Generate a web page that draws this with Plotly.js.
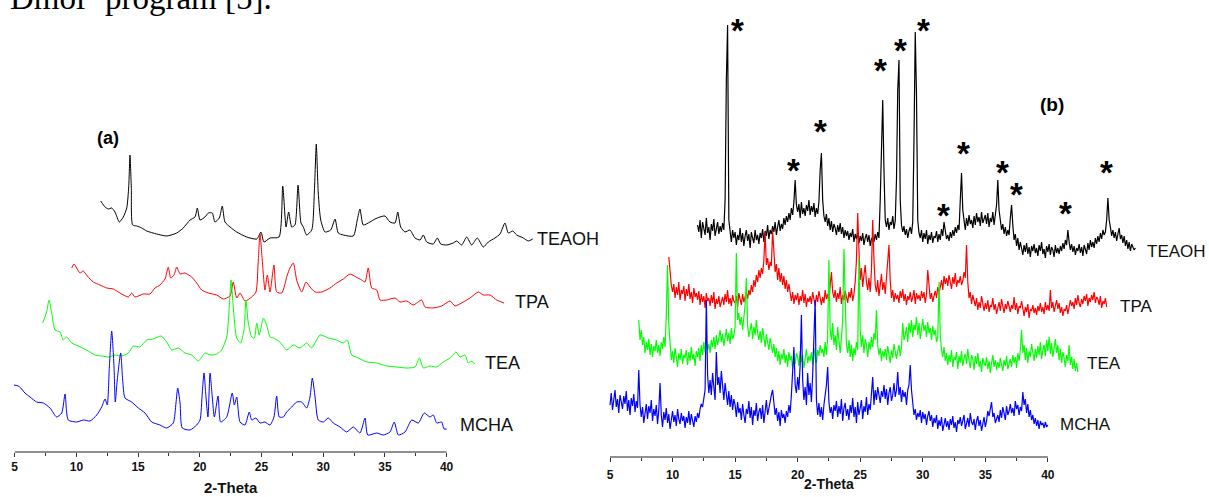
<!DOCTYPE html>
<html><head><meta charset="utf-8">
<script src="https://cdn.plot.ly/plotly-3.0.1.min.js"></script>
<style>html,body{margin:0;padding:0;background:#fff}#chart{width:1209px;height:497px}</style>
</head><body><div id="chart"></div>
<script>
// ---------- Panel (a): smoothed patterns (2-theta, relative intensity) ----------
const seriesNames = ["TEAOH","TPA","TEA","MCHA"];
const seriesColors = ["#000000","#ff0000","#00ff00","#0000ff"];
const tickVals = [5,10,15,20,25,30,35,40];
const tickText = ["5","10","15","20","25","30","35","40"];
const minorTickVals = [7.5,12.5,17.5,22.5,27.5,32.5,37.5];

const aTEAOH_theta = [11.97,12.32,12.59,12.86,13.13,13.48,13.80,14.08,14.24,14.34,14.45,14.56,14.89,15.29,15.70,16.51,17.32,18.13,18.66,19.21,19.61,19.80,20.02,20.42,20.69,21.01,21.23,21.58,21.82,22.04,22.45,22.99,23.80,24.61,24.96,25.20,25.69,26.42,26.72,26.99,27.20,27.45,27.71,27.96,28.20,28.39,28.66,29.07,29.28,29.44,29.60,29.80,30.15,30.61,30.96,31.22,31.63,32.44,32.76,32.98,33.25,33.79,34.20,34.60,35.01,35.41,35.82,36.04,36.28,36.63,37.03,37.44,37.85,38.11,38.39,38.92,39.25,39.52,40.01,40.54,40.82,41.22,41.63,42.03,42.49,42.97,43.38,43.92,44.33,44.73,45.00,45.36,45.68,46.22,46.62,46.98];
const aTEAOH_int = [49,43,41,42,38,28,33,42,63,95,63,25,24,22,19,16,14,17,22,30,33,42,30,33,37,37,28,32,44,28,23,18,13,11,18,8,12,13,64,23,38,23,25,65,27,23,15,20,57,106,57,30,18,20,31,17,15,14,30,41,25,28,31,33,34,28,27,38,23,18,20,12,10,15,8,6,12,6,5,7,9,5,13,5,12,3,8,12,16,27,17,19,15,12,9,11];

const aTPA_theta = [9.62,9.81,10.02,10.29,10.56,10.88,11.37,11.91,12.46,12.99,13.53,14.21,14.48,14.75,15.42,15.96,16.37,16.77,17.18,17.45,17.64,17.91,18.13,18.40,18.80,19.34,19.75,20.15,20.69,21.37,21.90,22.45,22.71,22.99,23.26,23.66,24.21,24.55,24.74,24.88,25.06,25.28,25.47,25.69,26.01,26.23,26.64,27.09,27.31,27.58,27.85,28.26,28.61,28.93,29.34,29.88,30.55,31.09,31.63,32.17,32.66,33.12,33.39,33.65,33.93,34.34,34.60,35.15,35.82,36.22,36.77,37.30,37.98,38.25,38.92,39.60,40.28,40.68,41.35,41.90,42.57,42.97,43.52,44.06,44.65];
const aTPA_int = [40,44,40,35,37,32,26,23,20,19,15,11,15,11,14,14,20,23,29,41,30,33,41,34,35,31,25,18,15,13,9,12,26,10,15,7,11,16,48,74,48,18,33,16,43,16,15,33,40,45,28,16,26,21,16,16,20,25,29,34,31,28,26,40,20,18,8,8,10,6,7,3,8,1,0,2,7,2,6,10,16,13,13,8,5];

const aTEA_theta = [7.27,7.59,7.78,8.00,8.27,8.67,8.94,9.21,9.62,10.15,10.83,11.51,12.05,12.59,13.13,13.67,14.21,14.61,15.15,15.70,16.23,16.86,17.32,17.72,18.26,18.80,19.34,19.88,20.42,20.83,21.37,21.77,22.18,22.39,22.53,22.71,22.99,23.31,23.58,23.74,23.93,24.21,24.42,24.61,24.82,25.15,25.42,25.69,25.96,26.50,27.04,27.58,28.12,28.66,29.07,29.74,30.41,31.09,31.63,31.95,32.31,32.84,33.53,34.34,35.15,35.96,36.77,37.44,37.79,38.11,38.65,39.20,39.73,40.28,40.76,41.09,41.49,41.76,41.98,42.30];
const aTEA_int = [45,56,68,55,38,36,28,31,25,22,18,13,12,11,13,12,15,22,21,28,29,32,26,18,20,15,13,7,15,13,14,18,31,61,88,61,30,25,38,68,45,31,30,45,33,50,43,31,30,26,18,23,20,25,20,33,30,28,25,28,13,10,6,5,2,1,0,1,10,0,2,1,6,10,16,11,13,5,7,4];

const aMCHA_theta = [4.94,5.29,5.49,5.83,6.24,6.78,7.32,7.86,8.40,8.81,9.08,9.34,10.02,10.56,11.10,11.65,12.05,12.32,12.50,12.67,12.86,13.05,13.15,13.31,13.59,13.75,13.94,14.48,15.02,15.56,16.10,16.77,17.32,17.85,18.07,18.21,18.40,18.58,19.21,19.75,20.02,20.20,20.34,20.50,20.66,20.83,21.01,21.18,21.48,21.69,22.18,22.63,22.80,22.99,23.26,23.66,24.01,24.21,24.55,24.88,25.28,25.69,26.01,26.23,26.44,26.77,27.04,27.45,27.85,28.26,28.66,28.93,29.12,29.34,29.60,30.01,30.41,30.82,31.36,31.90,32.44,32.98,33.39,33.61,34.34,34.87,35.41,35.76,36.09,36.63,37.17,37.71,38.19,38.65,38.92,39.20,39.60,39.79,40.01];
const aMCHA_int = [51,50,48,43,39,34,33,28,19,23,42,16,14,16,15,21,29,37,31,69,105,69,34,56,83,56,38,34,28,23,14,11,8,13,33,48,33,8,6,11,16,43,63,39,19,63,39,19,40,14,19,43,31,39,14,11,24,16,18,13,14,11,19,40,19,19,24,29,34,34,28,39,58,39,16,14,18,13,9,4,9,3,18,1,3,1,4,14,1,4,16,13,23,19,21,13,14,7,7];

// ---------- Panel (b): raw patterns, 0.1 degree step ----------
const stepB = 0.1;
const bTEAOH_start = 12.0;
const bTEAOH_int = [
35,28,40,22,38,30,25,42,27,33,
20,36,29,41,24,31,38,26,34,28,
37,30,60,180,235,40,26,18,30,22,
28,15,25,20,32,18,27,14,24,30,
19,26,12,28,22,17,30,20,25,16,
27,22,31,18,29,24,35,21,30,26,
34,28,38,25,33,40,29,36,31,42,
35,44,38,47,40,52,45,58,80,55,
48,56,42,58,46,52,44,55,49,60,
45,54,48,57,43,52,46,58,90,107,
60,44,38,46,34,42,30,39,28,36,
32,25,35,28,37,26,33,22,30,24,
29,20,27,23,31,18,26,21,28,17,
24,19,27,15,22,26,18,25,14,21,
23,18,26,20,28,22,60,130,160,90,
40,33,42,30,38,35,44,31,39,80,
170,200,60,35,28,34,25,31,22,29,
33,26,38,120,228,165,40,27,22,30,
18,27,21,30,16,25,20,28,17,24,
22,29,18,26,20,31,24,38,27,21,
25,19,28,22,30,24,33,27,35,30,
60,87,50,38,30,42,34,45,36,40,
32,44,35,47,38,43,34,48,37,41,
45,36,47,33,42,38,48,35,44,55,
80,50,40,30,36,26,33,24,30,25,
42,55,35,20,26,14,22,10,18,12,
5,15,8,17,6,13,3,14,9,16,
7,12,4,15,9,18,6,11,2,14,
8,16,5,13,10,3,15,7,12,6,
14,9,17,11,20,15,30,18,10,16,
8,14,5,12,9,16,7,13,4,15,
11,6,17,10,20,13,18,12,22,16,
24,18,27,21,30,25,28,40,62,40,
33,24,30,22,28,19,26,32,21,25,
17,24,14,20,11,18,9,16,13,10,
12];

const bTPA_start = 9.7;
const bTPA_int = [
63,47,35,
28,36,22,33,25,38,20,30,26,34,
19,31,24,36,21,28,17,32,23,27,
20,29,15,26,18,24,12,27,19,22,
14,25,17,28,11,21,16,24,13,20,
23,15,26,18,30,16,22,14,25,19,
17,24,13,27,20,15,26,18,23,28,
21,30,25,35,28,40,33,45,38,50,
42,52,46,60,88,55,62,50,58,54,
90,70,48,56,40,52,38,47,35,44,
31,40,28,36,25,19,28,16,25,20,
27,15,24,19,30,17,26,13,22,18,
24,16,28,20,14,25,18,29,21,15,
23,17,30,21,26,19,35,48,28,22,
30,18,27,21,33,16,25,20,29,24,
17,28,22,32,19,26,38,60,107,70,
40,52,33,45,55,38,30,42,28,50,
100,60,35,28,40,24,33,46,30,38,
26,44,52,75,40,22,30,18,27,21,
25,17,29,22,31,19,26,15,24,20,
28,18,23,30,16,27,21,25,19,29,
22,28,17,26,50,30,21,27,18,24,
29,22,33,26,35,40,30,44,36,42,
34,45,38,31,43,36,47,33,40,37,
44,35,39,48,42,75,38,22,28,16,
25,19,14,22,10,18,12,24,15,9,
17,11,20,8,15,13,22,10,16,6,
12,18,9,21,14,7,16,11,19,13,
8,15,11,23,10,17,6,14,12,19,
10,4,13,8,16,2,11,9,15,7,
12,5,14,9,17,8,13,6,18,10,
15,9,30,12,18,8,14,20,11,17,
7,13,4,11,9,15,6,12,20,14,
18,11,22,15,25,17,13,21,16,24,
19,26,14,22,18,25,20,28,17,23,
21,15,24,12,19,16,22,13];

const bTEA_start = 7.3;
const bTEA_int = [
55,35,45,30,38,22,33,
25,36,20,31,18,29,24,35,22,30,
19,33,26,38,28,60,110,50,28,15,
24,12,27,18,8,22,15,26,11,20,
17,25,10,23,14,28,16,21,9,24,
18,27,14,30,20,33,23,36,25,31,
22,35,28,38,26,40,30,37,45,33,
41,29,38,46,34,42,31,47,36,40,
48,122,55,62,50,58,45,60,70,97,
50,38,45,52,36,48,40,55,42,35,
44,32,47,38,28,41,34,25,37,30,
22,31,18,27,14,24,10,21,16,26,
12,20,8,23,15,19,6,17,11,22,
18,9,24,13,20,7,16,26,12,19,
14,23,10,27,17,12,25,19,30,22,
26,18,33,20,38,115,45,35,52,30,
40,25,48,33,22,37,55,126,60,30,
22,35,18,30,14,27,20,33,25,117,
45,28,40,22,36,30,18,33,25,38,
28,42,35,65,30,20,27,14,24,18,
26,15,29,20,12,25,17,31,22,16,
24,30,19,28,52,35,40,48,33,52,
42,55,38,50,45,58,40,52,36,48,
56,44,50,38,53,42,47,35,49,40,
45,33,38,93,40,25,18,28,14,22,
10,20,13,25,8,18,15,23,6,19,
12,24,9,17,21,11,26,14,7,20,
16,5,19,11,22,8,14,3,17,12,
9,18,6,14,2,12,20,8,15,5,
13,7,17,10,4,15,9,19,6,11,
16,8,20,12,18,7,22,14,25,45,
22,30,15,27,12,24,18,31,20,14,
26,17,29,20,33,16,25,30,19,35,
24,38,21,32,18,28,36,22,30,15,
26,12,23,17,8,20,14,30,10,18,
6,16,4,12,3];

const bMCHA_start = 5.0;
const bMCHA_int = [
30,42,25,38,45,28,36,22,40,33,
26,39,31,44,24,35,20,37,29,41,
23,34,27,65,30,18,28,12,24,31,
16,29,22,35,14,26,19,30,11,25,
52,20,8,23,15,27,12,21,6,18,
24,13,20,9,26,16,11,22,14,19,
7,18,12,24,10,21,15,8,19,13,
22,17,26,31,28,38,45,135,60,42,
55,40,62,48,35,83,50,58,42,64,
46,35,52,38,30,44,28,40,25,36,
30,18,33,22,27,15,31,20,12,26,
21,34,17,28,10,25,19,32,14,23,
27,16,30,12,24,35,20,28,32,40,
45,30,20,27,14,23,9,25,17,21,
12,24,18,30,22,40,60,88,50,42,
58,45,70,120,55,35,48,30,62,40,
52,33,60,90,135,35,20,32,18,28,
15,30,38,50,68,33,22,28,16,30,
24,34,18,29,21,36,14,27,32,19,
26,15,30,22,37,18,28,12,33,20,
27,35,16,29,23,38,20,31,25,40,
58,30,45,35,48,40,32,44,38,50,
36,46,30,42,48,34,40,52,38,45,
63,40,48,33,45,38,43,30,45,50,
70,45,28,20,26,15,22,18,25,12,
23,16,21,10,19,24,14,20,8,17,
12,20,6,15,9,18,4,13,17,8,
14,5,16,10,19,7,13,3,15,11,
18,9,14,20,6,12,17,8,22,13,
10,16,5,14,19,9,15,4,12,18,
8,14,24,19,26,33,18,22,12,16,
20,13,25,17,28,22,15,29,20,24,
31,22,27,19,34,26,30,20,28,24,
43,30,36,22,31,18,25,15,20,11,
17,9,15,6,14,10,12,7,13,8,
10];

// peaks marked with asterisks in panel (b)
const starTheta = [15.23,19.63,21.79,26.66,28.26,30.02,31.62,33.22,36.41,37.53,41.45,44.65];
const starPy    = [23,163,123,63,42,23,207,145,165,186,206,165];

// ---------- layout geometry ----------
const W = 1209, H = 497;
const aAxisPy = 452, bAxisPy = 457;
const aX5 = 14.7, aPxPerDeg = 12.34;
const bX5 = 610,  bPxPerDeg = 12.51;
const xr = [4, 48];
const aOffsets = [202, 144, 84, 16];
const bOffsets = [197, 137, 82, 22];

const aData = [[aTEAOH_theta,aTEAOH_int],[aTPA_theta,aTPA_int],[aTEA_theta,aTEA_int],[aMCHA_theta,aMCHA_int]];
const bData = [[bTEAOH_start,bTEAOH_int],[bTPA_start,bTPA_int],[bTEA_start,bTEA_int],[bMCHA_start,bMCHA_int]];

const traces = [];
aData.forEach((d,i)=>{
  traces.push({x:d[0], y:d[1].map(v=>v+aOffsets[i]), type:'scatter', mode:'lines',
    line:{color:seriesColors[i], width:1, shape:'spline', smoothing:0.6}, xaxis:'x', yaxis:'y', hoverinfo:'skip', showlegend:false});
});
bData.forEach((d,i)=>{
  const xs = d[1].map((_,k)=> +(d[0] + k*stepB).toFixed(2));
  traces.push({x:xs, y:d[1].map(v=>v+bOffsets[i]), type:'scatter', mode:'lines',
    line:{color:seriesColors[i], width:1.2}, xaxis:'x2', yaxis:'y2', hoverinfo:'skip', showlegend:false});
});

function xDomain(x5, ppd){ return [(x5 - (5-xr[0])*ppd)/W, (x5 + (xr[1]-5)*ppd)/W]; }
const FONT = 'Arial, "Liberation Sans", sans-serif';
function xAxis(dom, anchor, standoff){
  return {domain:dom, range:xr, anchor:anchor, showgrid:false, zeroline:false, showline:false,
    ticks:'outside', ticklen:4, tickwidth:1, tickcolor:'#333',
    tickmode:'array', tickvals:tickVals, ticktext:tickText, ticklabelstandoff:standoff,
    tickfont:{family:FONT, size:12, color:'#111', weight:700},
    minor:{tickmode:'array', tickvals:minorTickVals, ticks:'outside', ticklen:3, tickwidth:1, tickcolor:'#333'},
    fixedrange:true};
}
const P = (px)=>px/W, Q = (py)=>1-py/H;

const ann = [];
// cut-off line of body text at top
ann.push({text:'Dmol<sup>3</sup> program [5].', xref:'paper', yref:'paper', x:P(8), y:Q(18),
  xanchor:'left', yanchor:'bottom', showarrow:false, font:{family:'"Times New Roman", "Liberation Serif", serif', size:33, color:'#000'}});
// panel labels
ann.push({text:'(a)', xref:'paper', yref:'paper', x:P(108), y:Q(138), xanchor:'center', yanchor:'middle', showarrow:false,
  font:{family:FONT, size:18, color:'#000', weight:700}});
ann.push({text:'(b)', xref:'paper', yref:'paper', x:P(1052), y:Q(104), xanchor:'center', yanchor:'middle', showarrow:false,
  font:{family:FONT, size:19, color:'#000', weight:700}});
// axis titles
ann.push({text:'2-Theta', xref:'x', yref:'paper', x:22.5, y:Q(487.5), xanchor:'center', yanchor:'middle', showarrow:false,
  font:{family:FONT, size:15, color:'#111', weight:700}});
ann.push({text:'2-Theta', xref:'x2', yref:'paper', x:22.5, y:Q(483.5), xanchor:'center', yanchor:'middle', showarrow:false,
  font:{family:FONT, size:14, color:'#111', weight:700}});
// series labels
const aLabelPos = [[568,239],[532,302],[502,363],[486,425]];
const bLabelPos = [[1176,251],[1136,306],[1104,363],[1085,424]];
seriesNames.forEach((n,i)=>{
  ann.push({text:n, xref:'paper', yref:'paper', x:P(aLabelPos[i][0]), y:Q(aLabelPos[i][1]), xanchor:'center', yanchor:'middle',
    showarrow:false, font:{family:FONT, size:18, color:'#111'}});
  ann.push({text:n, xref:'paper', yref:'paper', x:P(bLabelPos[i][0]), y:Q(bLabelPos[i][1]), xanchor:'center', yanchor:'middle',
    showarrow:false, font:{family:FONT, size:17, color:'#111'}});
});
// asterisks
starTheta.forEach((t,i)=>{
  ann.push({text:'*', xref:'x2', yref:'paper', x:t, y:Q(starPy[i]+8), xanchor:'center', yanchor:'middle', showarrow:false,
    font:{family:FONT, size:33, color:'#000', weight:700}});
});

const layout = {
  width:W, height:H, margin:{l:0,r:0,t:0,b:0}, paper_bgcolor:'#fff', plot_bgcolor:'rgba(0,0,0,0)',
  showlegend:false,
  xaxis: xAxis(xDomain(aX5,aPxPerDeg), 'y', 0),
  yaxis: {domain:[(H-aAxisPy)/H,1], range:[0,aAxisPy], visible:false, fixedrange:true},
  xaxis2: xAxis(xDomain(bX5,bPxPerDeg), 'y2', 3),
  yaxis2: {domain:[(H-bAxisPy)/H,1], range:[0,bAxisPy], visible:false, fixedrange:true, anchor:'x2'},
  shapes:[
    {type:'line', xref:'x', yref:'paper', x0:5, x1:40, y0:(H-aAxisPy)/H, y1:(H-aAxisPy)/H, line:{color:'#222', width:1.2}},
    {type:'line', xref:'x2', yref:'paper', x0:5, x1:40, y0:(H-bAxisPy)/H, y1:(H-bAxisPy)/H, line:{color:'#222', width:1.2}}
  ],
  annotations: ann
};
Plotly.newPlot('chart', traces, layout, {staticPlot:true, displayModeBar:false});
</script>
</body></html>
